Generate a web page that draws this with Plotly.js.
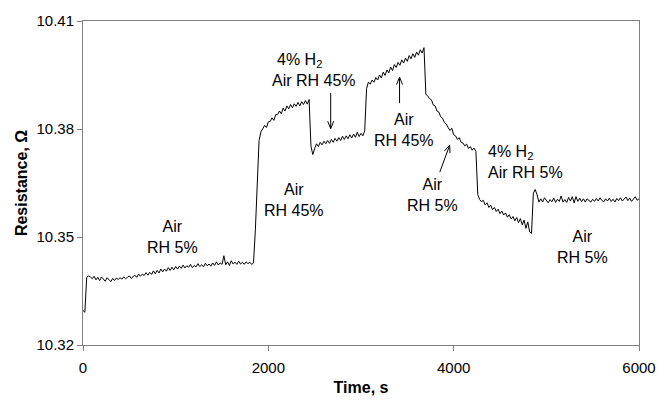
<!DOCTYPE html>
<html>
<head>
<meta charset="utf-8">
<script src="https://cdn.plot.ly/plotly-3.0.1.min.js"></script>
<style>html,body{margin:0;padding:0;background:#fff;}#chart{width:657px;height:401px;}</style>
</head>
<body>
<div id="chart"></div>
<script>
// Sampling: one reading every 20 s starting at t = 0 s
const T_START = 0;
const T_STEP = 20;

// Segment readings (Ohm)
const segStart = [10.3296, 10.3291, 10.3388];
const segAirRH5a = [
  10.3392,10.3389,10.3384,10.3391,10.3381,10.3388,10.3379,10.3389,10.3384,10.3377,
  10.3387,10.3380,10.3376,10.3385,10.3379,10.3386,10.3382,10.3387,10.3383,10.3389,
  10.3384,10.3388,10.3392,10.3385,10.3391,10.3394,10.3388,10.3397,10.3391,10.3397,
  10.3393,10.3401,10.3394,10.3402,10.3396,10.3406,10.3398,10.3407,10.3400,10.3411,
  10.3403,10.3411,10.3405,10.3415,10.3407,10.3416,10.3409,10.3418,10.3411,10.3419,
  10.3413,10.3422,10.3414,10.3420,10.3416,10.3424,10.3415,10.3421,10.3417,10.3426,
  10.3418,10.3423,10.3417,10.3427,10.3420,10.3425,10.3419,10.3428,10.3421,10.3431,
  10.3422,10.3428,10.3424,10.3448,10.3423,10.3431,10.3421,10.3434,10.3425,10.3430,
  10.3424,10.3433,10.3425,10.3430,10.3424,10.3431,10.3426,10.3430,10.3424,10.3428
];
const segAirRH45a = [
  10.3520,10.3660,10.3768,10.3792,10.3800,10.3810,10.3804,10.3820,10.3821,10.3831,
  10.3824,10.3840,10.3840,10.3850,10.3842,10.3858,10.3850,10.3864,10.3856,10.3868,
  10.3859,10.3870,10.3863,10.3874,10.3864,10.3876,10.3868,10.3879,10.3869,10.3882
];
const segH2RH45 = [
  10.3752,10.3729,10.3746,10.3759,10.3751,10.3763,10.3756,10.3766,10.3759,10.3768,
  10.3760,10.3771,10.3763,10.3774,10.3766,10.3776,10.3768,10.3780,10.3771,10.3781,
  10.3773,10.3784,10.3775,10.3786,10.3777,10.3791,10.3779,10.3788,10.3781,10.3795
];
const segAirRH45b = [
  10.3912,10.3930,10.3925,10.3936,10.3930,10.3943,10.3936,10.3950,10.3942,10.3958,
  10.3949,10.3964,10.3956,10.3972,10.3962,10.3979,10.3971,10.3985,10.3977,10.3992,
  10.3983,10.3997,10.3988,10.4004,10.3995,10.4009,10.3999,10.4014,10.4005,10.4020,
  10.4011,10.4026
];
const segAirRH5b = [
  10.3896,10.3892,10.3884,10.3881,10.3867,10.3864,10.3850,10.3847,10.3834,10.3830,
  10.3818,10.3814,10.3804,10.3796,10.3802,10.3784,10.3781,10.3771,10.3776,10.3763,
  10.3761,10.3753,10.3758,10.3746,10.3751,10.3741,10.3747,10.3738
];
const segH2RH5 = [
  10.3618,10.3604,10.3598,10.3602,10.3589,10.3595,10.3582,10.3588,10.3576,10.3582,
  10.3571,10.3577,10.3565,10.3572,10.3561,10.3567,10.3555,10.3562,10.3550,10.3557,
  10.3545,10.3554,10.3540,10.3551,10.3534,10.3547,10.3524,10.3542,10.3514,10.3510
];
const segAirRH5c = [
  10.3622,10.3632,10.3617,10.3597,10.3606,10.3597,10.3609,10.3600,10.3595,10.3604,
  10.3598,10.3608,10.3596,10.3605,10.3599,10.3614,10.3597,10.3604,10.3596,10.3610,
  10.3600,10.3612,10.3595,10.3612,10.3599,10.3608,10.3598,10.3606,10.3597,10.3606,
  10.3600,10.3597,10.3605,10.3599,10.3607,10.3600,10.3609,10.3601,10.3598,10.3606,
  10.3600,10.3608,10.3599,10.3605,10.3597,10.3607,10.3601,10.3609,10.3600,10.3605,
  10.3611,10.3601,10.3608,10.3599,10.3606,10.3612,10.3602,10.3606
];

const xTickVals = [0, 2000, 4000, 6000];
const xTickText = ['0', '2000', '4000', '6000'];
const yTickVals = [10.32, 10.35, 10.38, 10.41];
const yTickText = ['10.32', '10.35', '10.38', '10.41'];

const resistance = [].concat(segStart, segAirRH5a, segAirRH45a, segH2RH45,
                             segAirRH45b, segAirRH5b, segH2RH5, segAirRH5c);

const FONT = 'Liberation Sans, Arial, sans-serif';
const W = 657, H = 401;
const M = {l: 83, r: 18, t: 21, b: 56};
const X_RANGE = [0, 6000], Y_RANGE = [10.32, 10.41];
const pw = W - M.l - M.r, ph = H - M.t - M.b;
const sx = pw / (X_RANGE[1] - X_RANGE[0]);
const sy = ph / (Y_RANGE[1] - Y_RANGE[0]);

// arrow shape (line with open V head at the end point), in data coords
function arrow(x0, y0, x1, y1) {
  const dx = (x1 - x0) * sx, dy = -(y1 - y0) * sy;
  const len = Math.hypot(dx, dy);
  const ux = dx / len, uy = dy / len;
  const L = 8, a = 22 * Math.PI / 180;
  const pts = [a, -a].map(function (ang) {
    const rx = ux * Math.cos(ang) - uy * Math.sin(ang);
    const ry = ux * Math.sin(ang) + uy * Math.cos(ang);
    return [x1 - L * rx / sx, y1 + L * ry / sy];
  });
  return {
    type: 'path', xref: 'x', yref: 'y',
    path: 'M' + x0 + ',' + y0 + 'L' + x1 + ',' + y1 +
          'M' + pts[0][0] + ',' + pts[0][1] + 'L' + x1 + ',' + y1 + 'L' + pts[1][0] + ',' + pts[1][1],
    line: {color: '#000', width: 1}
  };
}

function label(x, y, text, xanchor) {
  return {x: x, y: y, xref: 'x', yref: 'y', text: text, showarrow: false,
          xanchor: xanchor || 'center', yanchor: 'middle', align: xanchor === 'left' ? 'left' : 'center',
          font: {family: FONT, size: 16, color: '#000'}};
}

const trace = {
  type: 'scatter', mode: 'lines',
  x0: T_START, dx: T_STEP, y: resistance,
  line: {color: '#000', width: 1},
  hoverinfo: 'x+y'
};

const layout = {
  width: W, height: H,
  margin: M,
  paper_bgcolor: '#fff', plot_bgcolor: '#fff',
  showlegend: false,
  font: {family: FONT, size: 15, color: '#000'},
  xaxis: {
    range: X_RANGE, tickvals: xTickVals, ticktext: xTickText,
    ticks: 'outside', ticklen: 5, tickcolor: '#808080', tickwidth: 1,
    ticklabelstandoff: 4,
    showline: true, linecolor: '#808080', linewidth: 1, mirror: true,
    showgrid: false, zeroline: false,
    tickfont: {family: FONT, size: 15, color: '#000'},
    title: {text: '<b>Time, s</b>', font: {family: FONT, size: 16, color: '#000'}, standoff: 6}
  },
  yaxis: {
    range: Y_RANGE, tickvals: yTickVals, ticktext: yTickText,
    ticks: 'outside', ticklen: 5, tickcolor: '#808080', tickwidth: 1,
    showline: true, linecolor: '#808080', linewidth: 1, mirror: true,
    showgrid: false, zeroline: false,
    tickfont: {family: FONT, size: 15, color: '#000'},
    title: {text: '<b>Resistance, \u03A9</b>', font: {family: FONT, size: 16, color: '#000'}, standoff: 4}
  },
  annotations: [
    label(970, 10.3501, 'Air<br>RH 5%'),
    label(2274, 10.3603, 'Air<br>RH 45%'),
    label(2072, 10.3991, '4% H<sub>2</sub>', 'left'),
    label(2015, 10.3935, 'Air RH 45%', 'left'),
    label(3460, 10.3797, 'Air<br>RH 45%'),
    label(3775, 10.3617, 'Air<br>RH 5%'),
    label(4346, 10.3736, '4% H<sub>2</sub>', 'left'),
    label(4353, 10.3678, 'Air RH 5%', 'left'),
    label(5393, 10.3473, 'Air<br>RH 5%')
  ],
  shapes: [
    arrow(2673, 10.3900, 2673, 10.3801),
    arrow(3416, 10.3872, 3416, 10.3944),
    arrow(3850, 10.3680, 3957, 10.3755)
  ]
};

Plotly.newPlot('chart', [trace], layout, {displayModeBar: false, staticPlot: true});
</script>
</body>
</html>
